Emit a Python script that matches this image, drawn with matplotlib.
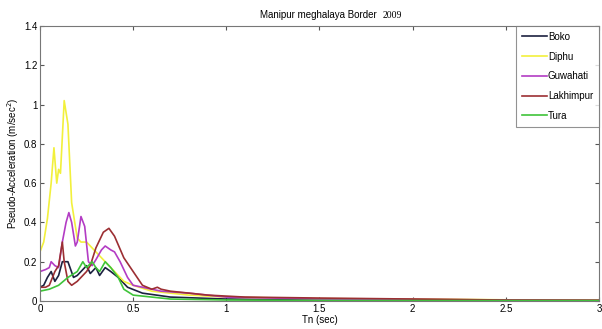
import numpy as np
import matplotlib
matplotlib.use("Agg")
from matplotlib import pyplot as plt

plt.rcParams['font.family'] = ['Liberation Sans', 'DejaVu Sans']

# response spectra, read per station (period in sec, pseudo-acceleration in m/sec^2)
boko_t = [0, 0.02, 0.04, 0.06, 0.08, 0.1, 0.12, 0.15, 0.18, 0.2, 0.22, 0.25, 0.27, 0.3, 0.32,
          0.35, 0.38, 0.42, 0.47, 0.55, 0.7, 1.0, 1.5, 2.0, 2.5, 3.0]
boko_a = [0.07, 0.08, 0.12, 0.15, 0.1, 0.13, 0.2, 0.2, 0.12, 0.13, 0.15, 0.18, 0.14, 0.17, 0.13,
          0.17, 0.15, 0.12, 0.07, 0.04, 0.02, 0.01, 0.006, 0.004, 0.003, 0.002]

diphu_t = [0, 0.02, 0.04, 0.06, 0.075, 0.09, 0.1, 0.11, 0.13, 0.15, 0.17, 0.2, 0.22, 0.25, 0.3,
           0.35, 0.4, 0.45, 0.5, 0.6, 0.8, 1.0, 1.5, 2.0, 2.5, 3.0]
diphu_a = [0.25, 0.3, 0.42, 0.6, 0.78, 0.6, 0.67, 0.65, 1.02, 0.9, 0.5, 0.32, 0.3, 0.3, 0.25,
           0.2, 0.15, 0.1, 0.08, 0.05, 0.03, 0.02, 0.012, 0.01, 0.006, 0.004]

guwahati_t = [0, 0.03, 0.05, 0.06, 0.08, 0.1, 0.12, 0.14, 0.155, 0.17, 0.19, 0.2, 0.22, 0.24,
              0.26, 0.28, 0.3, 0.33, 0.35, 0.38, 0.4, 0.43, 0.47, 0.5, 0.6, 0.65, 0.8, 1.0,
              1.5, 2.0, 2.5, 3.0]
guwahati_a = [0.15, 0.16, 0.17, 0.2, 0.18, 0.17, 0.3, 0.4, 0.45, 0.4, 0.28, 0.3, 0.43, 0.38,
              0.2, 0.18, 0.21, 0.26, 0.28, 0.26, 0.25, 0.2, 0.12, 0.08, 0.06, 0.05, 0.04, 0.02,
              0.01, 0.008, 0.005, 0.003]

lakhimpur_t = [0, 0.03, 0.05, 0.08, 0.1, 0.12, 0.13, 0.15, 0.17, 0.2, 0.22, 0.25, 0.27, 0.3,
               0.34, 0.37, 0.4, 0.45, 0.5, 0.55, 0.6, 0.63, 0.65, 0.7, 0.8, 0.9, 1.1, 1.5,
               2.0, 2.5, 3.0]
lakhimpur_a = [0.07, 0.07, 0.08, 0.15, 0.18, 0.3, 0.2, 0.1, 0.08, 0.1, 0.12, 0.15, 0.18, 0.27,
               0.35, 0.37, 0.33, 0.22, 0.15, 0.08, 0.06, 0.07, 0.06, 0.05, 0.04, 0.03, 0.02,
               0.015, 0.01, 0.005, 0.004]

tura_t = [0, 0.05, 0.1, 0.15, 0.2, 0.23, 0.25, 0.28, 0.3, 0.32, 0.35, 0.38, 0.42, 0.45, 0.5,
          0.7, 1.0, 1.5, 2.0, 2.5, 3.0]
tura_a = [0.05, 0.06, 0.08, 0.12, 0.15, 0.2, 0.17, 0.2, 0.17, 0.15, 0.2, 0.17, 0.12, 0.06,
          0.03, 0.01, 0.005, 0.003, 0.002, 0.002, 0.002]

stations = ['Boko', 'Diphu', 'Guwahati', 'Lakhimpur', 'Tura']
colors = ['#1c2140', '#f2f03c', '#b33cc4', '#9c2f33', '#3fc43a']
series = [(boko_t, boko_a), (diphu_t, diphu_a), (guwahati_t, guwahati_a),
          (lakhimpur_t, lakhimpur_a), (tura_t, tura_a)]

fig = plt.figure(figsize=(6.02, 3.29), dpi=100)
ax = fig.add_axes([0.0664, 0.0851, 0.9286, 0.836])

for name, col, (t, a) in zip(stations, colors, series):
    ax.plot(t, a, color=col, lw=1.2, label=name)

ax.set_xlim(0, 3)
ax.set_ylim(0, 1.4)
ax.set_xticks([0, 0.5, 1, 1.5, 2, 2.5, 3])
ax.set_xticklabels(['0', '0.5', '1', '1.5', '2', '2.5', '3'])
ax.set_yticks([0, 0.2, 0.4, 0.6, 0.8, 1.0, 1.2, 1.4])
ax.set_yticklabels(['0', '0.2', '0.4', '0.6', '0.8', '1', '1.2', '1.4'])
ax.tick_params(direction='in', top=True, right=True, labelsize=7, length=3,
               color='#555555', pad=2)
for s in ax.spines.values():
    s.set_color('#777777')
    s.set_linewidth(0.8)

ax.set_xlabel('Tn (sec)', fontsize=7, labelpad=1)
ax.set_ylabel('Pseudo-Acceleration (m/sec$^2$)', fontsize=7, labelpad=2)

fig.text(0.432, 0.945, 'Manipur meghalaya Border', fontsize=7, ha='left', va='baseline')
fig.text(0.636, 0.945, '2009', fontsize=7, family='Liberation Serif', ha='left', va='baseline')

leg = ax.legend(loc='upper right', fontsize=7, borderaxespad=0, frameon=True, fancybox=False,
                handlelength=2.6, handletextpad=0.1, labelspacing=1.0, borderpad=0.6)
leg.get_frame().set_edgecolor('#777777')
leg.get_frame().set_linewidth(0.8)

fig.savefig('out.png', dpi=100)
